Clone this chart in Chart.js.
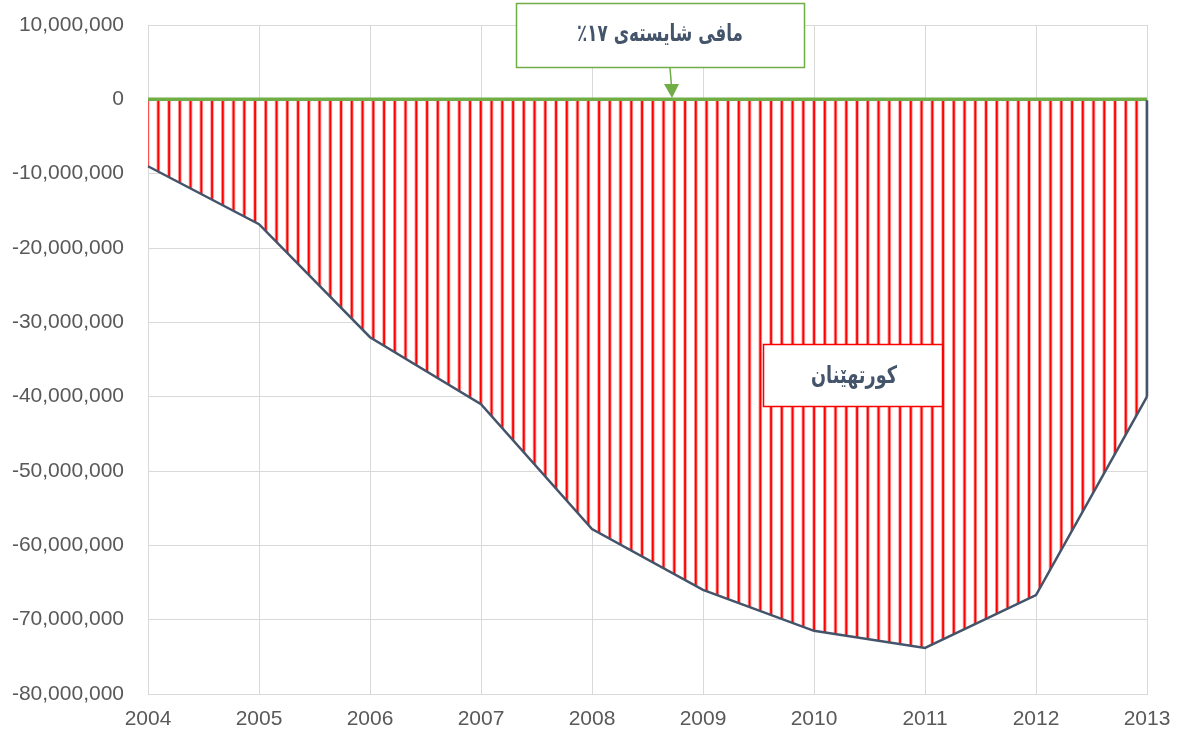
<!DOCTYPE html>
<html>
<head>
<meta charset="utf-8">
<script src="https://cdn.jsdelivr.net/npm/chart.js@4.4.1/dist/chart.umd.min.js"></script>
<style>
body{margin:0;background:#fff;}
canvas{display:block;}
</style>
</head>
<body>
<canvas id="chart" width="1178" height="737"></canvas>
<script>
/* DATA */
const years = ["2004","2005","2006","2007","2008","2009","2010","2011","2012","2013"];
const entitlement = [0,0,0,0,0,0,0,0,0,0];
const received = [-9000000,-16800000,-32000000,-41000000,-57800000,-66000000,-71500000,-73800000,-66700000,-40000000];
const yMin = -80000000;
const yMax = 10000000;
const yStep = 10000000;
const entitlementLabel = "مافی شایستەی ١٧٪";
const shortfallLabel = "کورتهێنان";

/* STRIPE PATTERN (vertical red lines, soft edges) */
function makeStripes(){
  const c = document.createElement("canvas");
  c.width = 43; c.height = 4;
  const g = c.getContext("2d");
  g.fillStyle = "#fff";
  g.fillRect(0,0,43,4);
  for(let i=0;i<4;i++){
    const x = 7.8 + i*10.75;
    g.fillStyle = "#ff9a9a";
    g.fillRect(x-1.8, 0, 3.6, 4);
    g.fillStyle = "#ff0000";
    g.fillRect(x-0.9, 0, 1.8, 4);
  }
  return g.createPattern(c, "repeat");
}
const ctx = document.getElementById("chart").getContext("2d");
const stripes = makeStripes();

// text squeezed to a given width (reference font is narrower than DejaVu)
function fitText(c, text, cx, cy, w){
  const m = c.measureText(text).width;
  c.save();
  c.translate(cx, cy);
  c.scale(Math.min(1, w / m), 1);
  c.fillText(text, 0, 0);
  c.restore();
}

/* CALLOUT BOXES */
const callouts = {
  id:"callouts",
  afterDatasetsDraw(chart){
    const c = chart.ctx;
    const meta = chart.getDatasetMeta(1);
    const last = meta.data[meta.data.length-1];
    const zeroY = chart.scales.y.getPixelForValue(0);
    // right edge of the area outline
    c.save();
    c.strokeStyle = "#44546A";
    c.lineWidth = 2.5;
    c.beginPath();
    c.moveTo(last.x, last.y);
    c.lineTo(last.x, zeroY + 1);
    c.stroke();
    c.restore();
  },
  afterDraw(chart){
    const c = chart.ctx;
    c.save();
    // entitlement box
    c.fillStyle = "#fff";
    c.fillRect(516,3,289,65);
    c.strokeStyle = "#70AD47";
    c.lineWidth = 1.5;
    c.strokeRect(516.5,3.5,288,64);
    c.font = "bold 24px 'DejaVu Sans'";
    c.fillStyle = "#44546A";
    c.textAlign = "center";
    c.textBaseline = "middle";
    c.direction = "rtl";
    fitText(c, entitlementLabel, 660, 35, 166);
    // arrow
    c.strokeStyle = "#70AD47";
    c.lineWidth = 1.5;
    c.beginPath();
    c.moveTo(670,68);
    c.lineTo(671.5,86);
    c.stroke();
    c.fillStyle = "#70AD47";
    c.beginPath();
    c.moveTo(664,84);
    c.lineTo(679,84);
    c.lineTo(672,98);
    c.closePath();
    c.fill();
    // shortfall box
    c.fillStyle = "#fff";
    c.fillRect(763,344,180,63);
    c.strokeStyle = "#ff0000";
    c.lineWidth = 1.5;
    c.strokeRect(763.5,344.5,179,62);
    c.fillStyle = "#44546A";
    fitText(c, shortfallLabel, 854, 377, 86);
    c.restore();
  }
};

function noPad(scale){
  scale.paddingTop = 0;
  scale.paddingBottom = 0;
  scale.paddingLeft = 0;
  scale.paddingRight = 0;
}

const chart = new Chart(ctx,{
  type:"line",
  data:{
    labels:years,
    datasets:[
      {
        label:"entitlement",
        data:entitlement,
        borderColor:"#70AD47",
        borderWidth:3.5,
        pointRadius:0,
        fill:false,
        order:0
      },
      {
        label:"received",
        data:received,
        borderColor:"#44546A",
        borderWidth:2.5,
        pointRadius:0,
        backgroundColor:stripes,
        fill:"origin",
        order:1
      }
    ]
  },
  options:{
    responsive:false,
    animation:false,
    layout:{padding:{left:0,right:31,top:25,bottom:0}},
    plugins:{legend:{display:false},tooltip:{enabled:false}},
    scales:{
      x:{
        offset:false,
        grid:{color:"#D9D9D9",lineWidth:1,drawTicks:false},
        border:{color:"#D9D9D9"},
        ticks:{
          color:"#595959",
          font:{family:"'Liberation Sans'",size:21},
          padding:13,
          maxRotation:0,
          autoSkip:false
        },
        afterFit(scale){ scale.height = 43; noPad(scale); }
      },
      y:{
        min:yMin,
        max:yMax,
        grid:{color:"#D9D9D9",lineWidth:1,drawTicks:false},
        border:{color:"#D9D9D9"},
        ticks:{
          stepSize:yStep,
          color:"#595959",
          font:{family:"'Liberation Sans'",size:21},
          padding:24,
          callback:v => v.toLocaleString("en-US")
        },
        afterFit(scale){ scale.width = 148; noPad(scale); }
      }
    }
  },
  plugins:[callouts]
});
</script>
</body>
</html>
